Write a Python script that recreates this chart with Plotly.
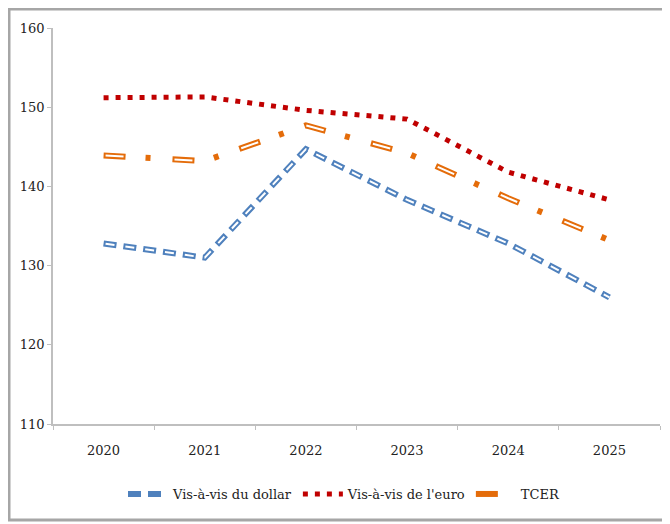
import plotly.graph_objects as go

years = ["2020", "2021", "2022", "2023", "2024", "2025"]
dollar = [132.8, 131.0, 144.7, 138.3, 132.8, 126.0]
euro = [151.2, 151.3, 149.6, 148.5, 141.8, 138.3]
tcer = [143.9, 143.2, 147.7, 144.2, 138.5, 133.2]

y_ticks = [110, 120, 130, 140, 150, 160]

BLUE = "#4f81bd"
RED = "#c00000"
ORANGE = "#e46c0a"
FONT = "DejaVu Serif"

fig = go.Figure()

# Vis-à-vis du dollar (hollow dashes)
fig.add_trace(go.Scatter(x=years, y=dollar, mode="lines", name="Vis-à-vis du dollar",
                         line=dict(color=BLUE, width=6, dash="13px,7px"), hoverinfo="skip"))
fig.add_trace(go.Scatter(x=years, y=dollar, mode="lines", showlegend=False,
                         line=dict(color="white", width=2, dash="0px,2px,9px,9px"), hoverinfo="skip"))

# Vis-à-vis de l'euro (dots)
fig.add_trace(go.Scatter(x=years, y=euro, mode="lines", name="Vis-à-vis de l'euro",
                         line=dict(color=RED, width=5, dash="5px,7px"), hoverinfo="skip"))

# TCER (hollow dash-dot)
fig.add_trace(go.Scatter(x=years, y=tcer, mode="lines", name="TCER",
                         line=dict(color=ORANGE, width=6, dash="22px,20px,5px,22px"), hoverinfo="skip"))
fig.add_trace(go.Scatter(x=years, y=tcer, mode="lines", showlegend=False,
                         line=dict(color="white", width=2, dash="0px,2px,18px,49px"), hoverinfo="skip"))

# page offset of the figure (body margin)
OFF = 8
W, H = 670 - OFF, 524 - OFF
L, T = 53 - OFF, 28 - OFF
R = W - (660 - OFF)
B = H - (424 - OFF)
pw = W - L - R
ph = H - T - B

def px_x(px):
    return (px - OFF - L) / pw

def px_y(py):
    return (H - B - (py - OFF)) / ph

fig.update_layout(
    width=W, height=H,
    margin=dict(l=L, r=R, t=T, b=B),
    paper_bgcolor="white", plot_bgcolor="white",
    font=dict(family=FONT, size=13, color="#222"),
    showlegend=True,
    legend=dict(orientation="h", x=px_x(344), xanchor="center", y=px_y(494), yanchor="middle",
                font=dict(family=FONT, size=13, color="#222"),
                itemwidth=40, tracegroupgap=0),
    xaxis=dict(type="category", range=[-0.5, 5.5], showgrid=False, zeroline=False,
               showline=True, linecolor="#bfbfbf", linewidth=1.5,
               ticks="outside", ticklen=4, tickcolor="#bfbfbf", tickson="boundaries",
               ticklabelstandoff=14,
               tickfont=dict(family=FONT, size=13, color="#222")),
    yaxis=dict(range=[110, 160], tickvals=y_ticks, showgrid=False, zeroline=False,
               showline=True, linecolor="#bfbfbf", linewidth=1.5,
               ticks="outside", ticklen=4, tickcolor="#bfbfbf",
               tickfont=dict(family=FONT, size=13, color="#222")),
    shapes=[dict(type="rect", xref="paper", yref="paper",
                 x0=px_x(OFF + 1), x1=px_x(665), y0=px_y(520), y1=px_y(OFF + 1),
                 line=dict(color="#a6a6a6", width=3), fillcolor="rgba(0,0,0,0)", layer="below")],
)

fig.write_html("out.html")
